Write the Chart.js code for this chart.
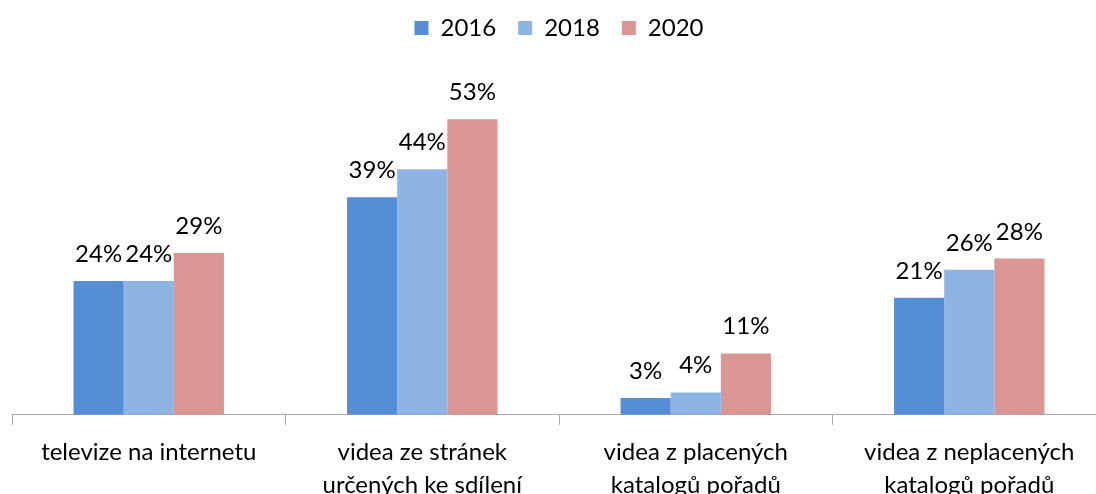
<!DOCTYPE html>
<html><head><meta charset="utf-8">
<script src="https://cdn.jsdelivr.net/npm/chart.js@4/dist/chart.umd.min.js"></script>
<style>html,body{margin:0;padding:0;background:#fff;overflow:hidden;width:1096px;height:494px}
#wrap{position:absolute;left:0;top:-11px;width:1138px;height:524px}</style>
</head><body>
<div id="wrap"><canvas id="c" width="1138" height="524"></canvas></div>
<script>
const categories = [["televize na internetu"],["videa ze stránek","určených ke sdílení"],["videa z placených","katalogů pořadů"],["videa z neplacených","katalogů pořadů"]];
const seriesNames = ["2016","2018","2020"];
const values2016 = [24,39,3,21];
const values2018 = [24,44,4,26];
const values2020 = [29,53,11,28];
const colors = ["#558ED5","#8EB4E3","#D99694"];
const FONT = "Lato, 'Open Sans', sans-serif";

const labelPlugin = {
  id:'labels',
  afterDatasetsDraw(chart){
    const ctx = chart.ctx;
    ctx.save();
    ctx.font = "24px " + FONT;
    ctx.fillStyle = "#000";
    ctx.textAlign = "center";
    ctx.textBaseline = "alphabetic";
    chart.data.datasets.forEach((ds,i)=>{
      const meta = chart.getDatasetMeta(i);
      meta.data.forEach((bar,j)=>{
        ctx.fillText(ds.data[j]+"%", bar.x, bar.y-19);
      });
    });
    ctx.restore();
  }
};

new Chart(document.getElementById('c'),{
  type:'bar',
  data:{
    labels:categories,
    datasets:[
      {label:seriesNames[0],data:values2016,backgroundColor:colors[0]},
      {label:seriesNames[1],data:values2018,backgroundColor:colors[1]},
      {label:seriesNames[2],data:values2020,backgroundColor:colors[2]}
    ]
  },
  options:{
    responsive:false,
    animation:false,
    layout:{padding:{left:12,right:32,top:5,bottom:0}},
    datasets:{bar:{categoryPercentage:0.55,barPercentage:1.0,borderWidth:0}},
    plugins:{
      legend:{
        position:'top',
        labels:{font:{size:24,family:FONT},color:'#000',boxWidth:14,boxHeight:14,padding:22,useBorderRadius:false}
      },
      tooltip:{enabled:false}
    },
    scales:{
      y:{display:false,min:0,max:65.4},
      x:{
        grid:{display:true,drawOnChartArea:false,drawTicks:true,tickLength:10,color:'#a6a6a6',offset:true},
        border:{display:true,color:'#a6a6a6',width:1},
        ticks:{font:{size:24,family:FONT,lineHeight:1.38},color:'#000',padding:11,maxRotation:0,autoSkip:false}
      }
    }
  },
  plugins:[labelPlugin]
});
</script>
</body></html>
